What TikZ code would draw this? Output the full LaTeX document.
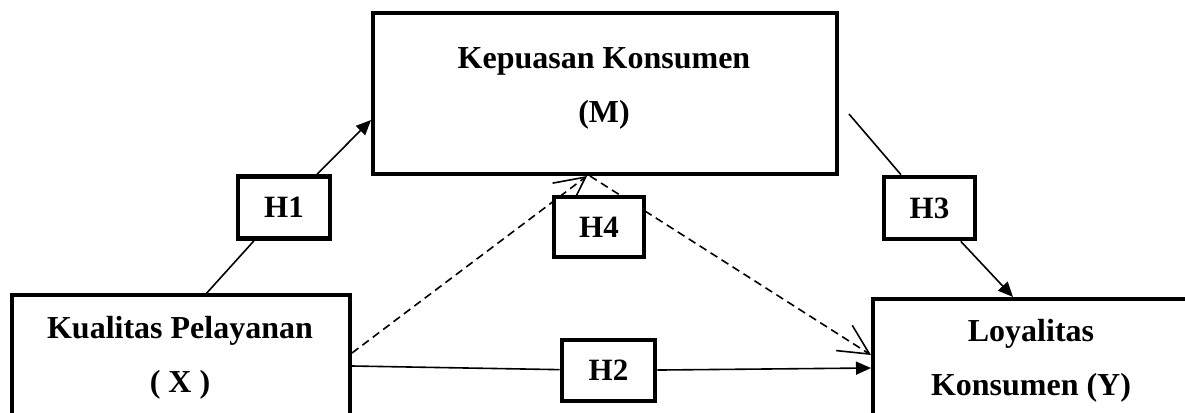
\documentclass[tikz,border=0pt]{standalone}
\usepackage{fontspec}
\setmainfont{Liberation Serif}
\usetikzlibrary{arrows.meta,backgrounds}
\begin{document}
\begin{tikzpicture}[x=1pt,y=-1pt,
  box/.style={draw,line width=4.6pt,fill=white,inner sep=0pt},
  hbox/.style={box,minimum width=92pt,minimum height=62pt,font=\fontsize{31}{36}\selectfont\bfseries},
  lbl/.style={anchor=base,inner sep=0pt,font=\fontsize{32}{38}\selectfont\bfseries},
  conn/.style={line width=1.6pt},
  tri/.style={-{Triangle[length=15pt,width=13pt]}},
  barb/.style={-{Straight Barb[length=30pt,width=30pt,line width=1.6pt]}},
  dsh/.style={dash pattern=on 8pt off 5pt}
]
\useasboundingbox (0,0) rectangle (1185,412);
\clip (0,0) rectangle (1185,412);
% main boxes
\node[box,minimum width=464pt,minimum height=161pt] (M) at (605,93.5) {};
\node[box,minimum width=338pt,minimum height=150pt] (X) at (181,370) {};
\node[box,minimum width=316pt,minimum height=150pt] (Y) at (1031,374) {};
% labels
\node[lbl] (mt1) at (604,68) {Kepuasan Konsumen};
\node[lbl] (mt2) at (604,122) {(M)};
\node[lbl] (xt1) at (180,338) {Kualitas Pelayanan};
\node[lbl] (xt2) at (180,392) {( X )};
\node[lbl] (yt1) at (1031,341) {Loyalitas};
\node[lbl] (yt2) at (1031,395) {Konsumen (Y)};
% hypothesis boxes
\node[hbox] (H1) at (284,207.5) {H1};
\node[hbox,minimum width=93pt,minimum height=61pt] (H2) at (608.5,370.5) {H2};
\node[hbox,minimum width=91pt] (H3) at (929.5,208) {H3};
\node[hbox,minimum width=90pt,minimum height=60pt] (H4) at (599,227) {H4};
% connector end points
\coordinate (x1) at (205,295);
\coordinate (m1) at (371,120);
\coordinate (h3s) at (849,114);
\coordinate (y1) at (1013,297);
\coordinate (x2) at (352,366);
\coordinate (y2) at (871,368);
\coordinate (x3) at (352,353);
\coordinate (m2) at (587,176);
\coordinate (m3) at (590,176);
\coordinate (y3) at (871,355);
\begin{scope}[on background layer]
\draw[conn] (x1) -- (H1);
\draw[conn,tri] (H1) -- (m1);
\draw[conn] (h3s) -- (H3);
\draw[conn,tri] (H3) -- (y1);
\draw[conn] (x2) -- (H2);
\draw[conn,tri] (H2) -- (y2);
\draw[conn,dsh,barb] (x3) -- (m2);
\draw[conn,dsh,barb] (m3) -- (y3);
\end{scope}
\end{tikzpicture}
\end{document}
